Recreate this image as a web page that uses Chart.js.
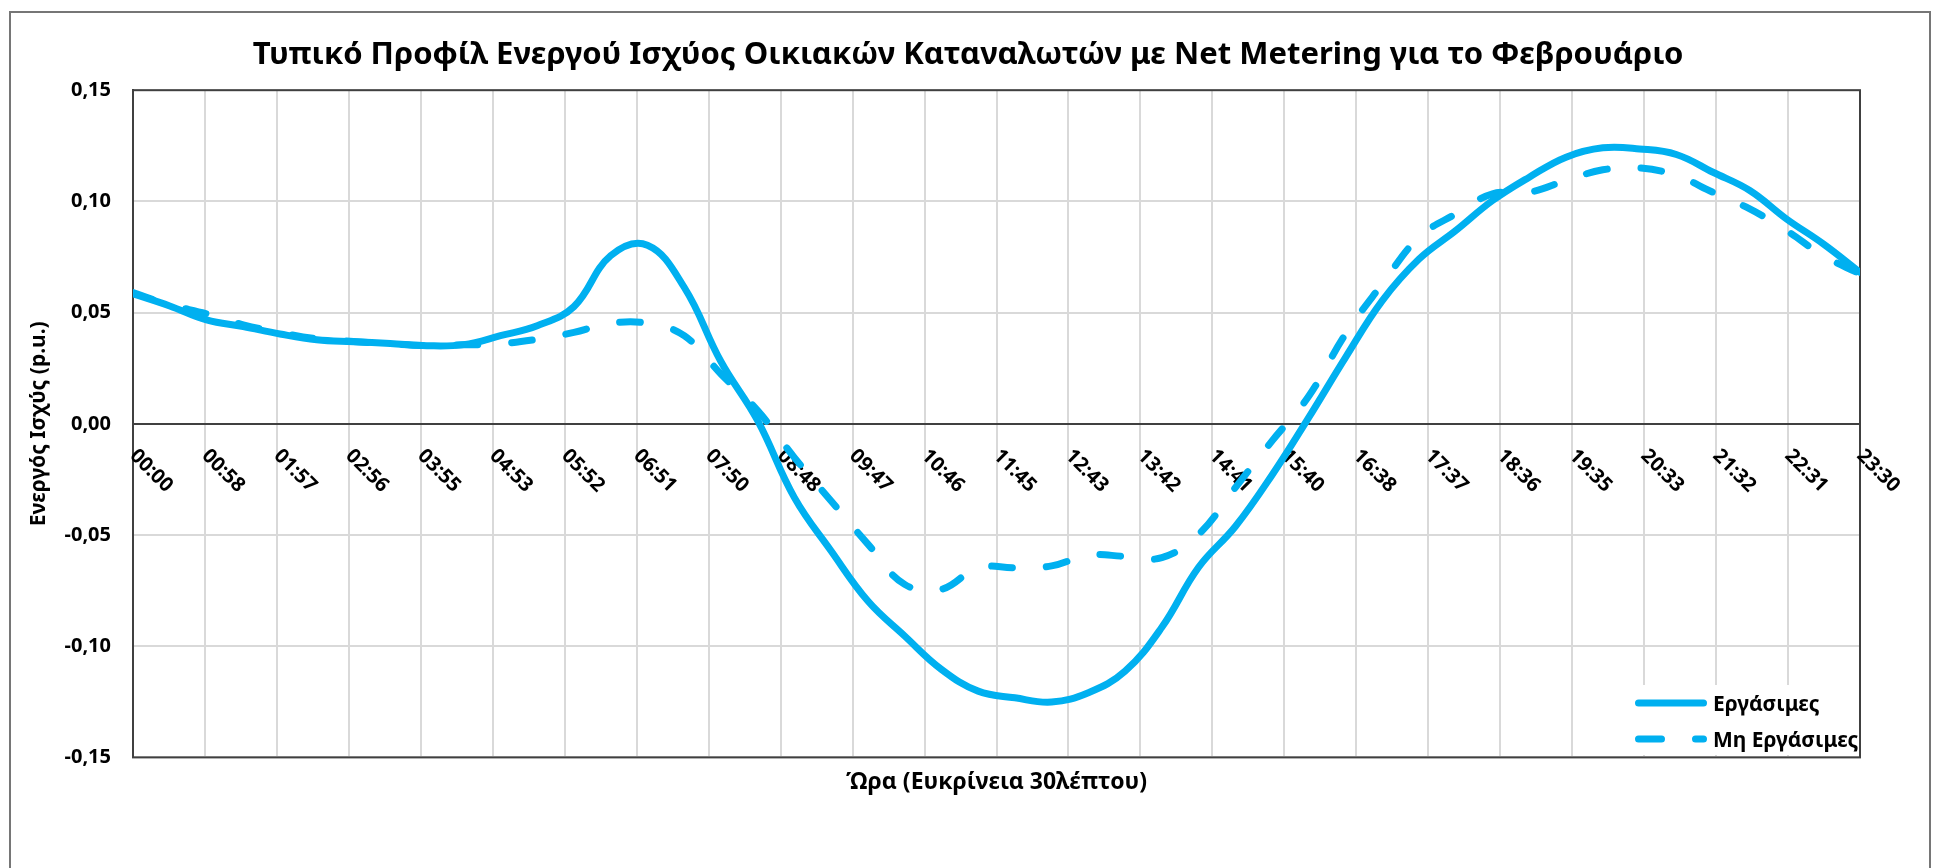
<!DOCTYPE html>
<html lang="el">
<head>
<meta charset="utf-8">
<title>Τυπικό Προφίλ Ενεργού Ισχύος - Φεβρουάριος</title>
<script src="https://cdn.jsdelivr.net/npm/chart.js@4.4.1/dist/chart.umd.min.js"></script>
<style>
  html, body { margin: 0; padding: 0; background: #fff; }
  #wrap { position: relative; width: 1936px; height: 868px; overflow: hidden; }
  #legend {
    position: absolute; left: 1628px; top: 685px; width: 230px; height: 70px;
    background: #fff; color: #000; font: bold 21px "Noto Sans", sans-serif;
  }
  #legend .row { position: absolute; left: 0; height: 36px; display: flex; align-items: center; white-space: nowrap; }
  #legend .row span { margin-left: 3px; }
</style>
</head>
<body>
<div id="wrap">
  <canvas id="profileChart" width="1936" height="868"></canvas>
  <div id="legend"></div>
</div>
<script>
// Δεδομένα (ανάλυση 30 λεπτών)
const times = ['00:00', '00:30', '01:00', '01:30', '02:00', '02:30', '03:00', '03:30',
    '04:00', '04:30', '05:00', '05:30', '06:00', '06:30', '07:00', '07:30',
    '08:00', '08:30', '09:00', '09:30', '10:00', '10:30', '11:00', '11:30',
    '12:00', '12:30', '13:00', '13:30', '14:00', '14:30', '15:00', '15:30',
    '16:00', '16:30', '17:00', '17:30', '18:00', '18:30', '19:00', '19:30',
    '20:00', '20:30', '21:00', '21:30', '22:00', '22:30', '23:00', '23:30'];

const workdays = [0.0585, 0.0530, 0.0467, 0.0437, 0.0404, 0.0378, 0.0369, 0.0361,
    0.0351, 0.0356, 0.0396, 0.0441, 0.0527, 0.0756, 0.0803, 0.0614,
    0.0280, 0.0014, -0.0332, -0.0572, -0.0797, -0.0954, -0.1104, -0.1202,
    -0.1232, -0.1251, -0.1209, -0.1112, -0.0915, -0.0645, -0.0462, -0.0230,
    0.0029, 0.0299, 0.0554, 0.0741, 0.0869, 0.1004, 0.1109, 0.1199,
    0.1241, 0.1236, 0.1211, 0.1131, 0.1049, 0.0921, 0.0809, 0.0681];

const nonWorkdays = [0.0590, 0.0535, 0.0495, 0.0445, 0.0410, 0.0382, 0.0370, 0.0360,
    0.0352, 0.0355, 0.0360, 0.0380, 0.0411, 0.0452, 0.0452, 0.0396,
    0.0224, 0.0059, -0.0152, -0.0347, -0.0541, -0.0722, -0.0744, -0.0647,
    -0.0647, -0.0639, -0.0591, -0.0596, -0.0602, -0.0497, -0.0287, -0.0077,
    0.0125, 0.0404, 0.0629, 0.0839, 0.0944, 0.1034, 0.1041, 0.1094,
    0.1142, 0.1151, 0.1116, 0.1041, 0.0966, 0.0869, 0.0756, 0.0674];

const tickLabels = ['00:00', '00:58', '01:57', '02:56', '03:55', '04:53', '05:52', '06:51',
    '07:50', '08:48', '09:47', '10:46', '11:45', '12:43', '13:42', '14:41', '15:40',
    '16:38', '17:37', '18:36', '19:35', '20:33', '21:32', '22:31', '23:30'];

const seriesNames = ['Εργάσιμες', 'Μη Εργάσιμες'];
const chartTitle = 'Τυπικό Προφίλ Ενεργού Ισχύος Οικιακών Καταναλωτών με Net Metering για το Φεβρουάριο';
const xTitle = 'Ώρα (Ευκρίνεια 30λέπτου)';
const yTitle = 'Ενεργός Ισχύς (p.u.)';

const FONT = '"Noto Sans", sans-serif';
const BLUE = '#00B0F0';
const DASH = [21, 34];

// ==============================================
function toMinutes(t) {
    const p = t.split(':');
    return parseInt(p[0], 10) * 60 + parseInt(p[1], 10);
}

function toPoints(values) {
    return values.map((v, i) => ({ x: toMinutes(times[i]), y: v }));
}

const xMax = toMinutes(times[times.length - 1]);

// ==============================================
// Πλαίσια (εξωτερικό + περιοχή σχεδίασης)
const frames = {
    id: 'frames',
    beforeDraw(chart) {
        const ctx = chart.ctx;
        ctx.save();
        ctx.strokeStyle = '#767676';
        ctx.lineWidth = 2;
        ctx.strokeRect(10, 12, 1920, 1000);
        ctx.restore();
    },
    beforeDatasetsDraw(chart) {
        const { ctx, chartArea: a } = chart;
        ctx.save();
        ctx.strokeStyle = '#404040';
        ctx.lineWidth = 2;
        ctx.strokeRect(a.left, a.top, a.width, a.height);
        ctx.restore();
    }
};

// Ετικέτες άξονα x, στραμμένες 45° κάτω από τη γραμμή του μηδενός
const xTickLabels = {
    id: 'xTickLabels',
    beforeDatasetsDraw(chart) {
        const { ctx, scales: { x, y } } = chart;
        const y0 = y.getPixelForValue(0);
        ctx.save();
        ctx.font = 'bold 20px ' + FONT;
        ctx.fillStyle = '#000';
        ctx.textAlign = 'left';
        ctx.textBaseline = 'middle';
        x.ticks.forEach((t, i) => {
            ctx.save();
            ctx.translate(x.getPixelForValue(t.value), y0 + 29);
            ctx.rotate(Math.PI / 4);
            ctx.fillText(tickLabels[i], 0, 0);
            ctx.restore();
        });
        ctx.restore();
    }
};

// Υπόμνημα σε HTML μέσα στην περιοχή σχεδίασης
const htmlLegend = {
    id: 'htmlLegend',
    afterUpdate(chart) {
        const box = document.getElementById('legend');
        box.innerHTML = '';
        const svgNS = 'http://www.w3.org/2000/svg';
        chart.data.datasets.forEach((ds, i) => {
            const row = document.createElement('div');
            row.className = 'row';
            row.style.top = (i * 36) + 'px';
            const svg = document.createElementNS(svgNS, 'svg');
            svg.setAttribute('width', '82');
            svg.setAttribute('height', '14');
            const line = document.createElementNS(svgNS, 'line');
            line.setAttribute('x1', '10.5');
            line.setAttribute('x2', '75.5');
            line.setAttribute('y1', '7');
            line.setAttribute('y2', '7');
            line.setAttribute('stroke', ds.borderColor);
            line.setAttribute('stroke-width', ds.borderWidth);
            line.setAttribute('stroke-linecap', 'round');
            if (ds.borderDash && ds.borderDash.length) {
                line.setAttribute('stroke-dasharray', '23 34');
            }
            svg.appendChild(line);
            const label = document.createElement('span');
            label.textContent = ds.label;
            row.appendChild(svg);
            row.appendChild(label);
            box.appendChild(row);
        });
    }
};

// ==============================================
new Chart(document.getElementById('profileChart'), {
    type: 'line',
    data: {
        datasets: [
            {
                label: seriesNames[0],
                data: toPoints(workdays),
                borderColor: BLUE,
                borderWidth: 7,
                borderCapStyle: 'round',
                borderJoinStyle: 'round',
                pointRadius: 0,
                tension: 0.4,
                order: 1
            },
            {
                label: seriesNames[1],
                data: toPoints(nonWorkdays),
                borderColor: BLUE,
                borderWidth: 7,
                borderDash: DASH,
                borderCapStyle: 'round',
                borderJoinStyle: 'round',
                pointRadius: 0,
                tension: 0.4,
                order: 0
            }
        ]
    },
    options: {
        responsive: false,
        animation: false,
        layout: { padding: { left: 20, right: 20, top: 12, bottom: 72 } },
        scales: {
            x: {
                type: 'linear',
                position: { y: 0 },
                min: 0,
                max: xMax,
                afterBuildTicks: (s) => {
                    const step = xMax / (tickLabels.length - 1);
                    s.ticks = tickLabels.map((_, i) => ({ value: i * step }));
                },
                ticks: { display: false },
                grid: { color: '#d9d9d9', lineWidth: 2, drawTicks: false },
                border: { color: '#404040', width: 2 }
            },
            y: {
                min: -0.15,
                max: 0.15,
                ticks: {
                    stepSize: 0.05,
                    padding: 22,
                    color: '#000',
                    font: { family: FONT, size: 20, weight: 'bold' },
                    callback: (v) => v.toFixed(2).replace('.', ',')
                },
                grid: { color: '#d9d9d9', lineWidth: 2, drawTicks: false },
                border: { color: '#404040', width: 2 },
                title: {
                    display: true,
                    text: yTitle,
                    color: '#000',
                    font: { family: FONT, size: 21, weight: 'bold' },
                    padding: { top: 6, bottom: 0 }
                },
                afterFit: (s) => { s.width = 113; }
            },
            y2: {
                position: 'right',
                display: true,
                ticks: { display: false },
                grid: { display: false },
                border: { display: false },
                afterFit: (s) => { s.width = 56; }
            }
        },
        plugins: {
            legend: { display: false },
            tooltip: { enabled: false },
            title: {
                display: true,
                text: chartTitle,
                color: '#000',
                font: { family: FONT, size: 31, weight: 'bold' },
                padding: { top: 25, bottom: 16 }
            },
            subtitle: {
                display: true,
                position: 'bottom',
                fullSize: false,
                text: xTitle,
                color: '#000',
                font: { family: FONT, size: 23, weight: 'bold' },
                padding: { top: 11, bottom: 0 }
            }
        }
    },
    plugins: [frames, xTickLabels, htmlLegend]
});
</script>
</body>
</html>
